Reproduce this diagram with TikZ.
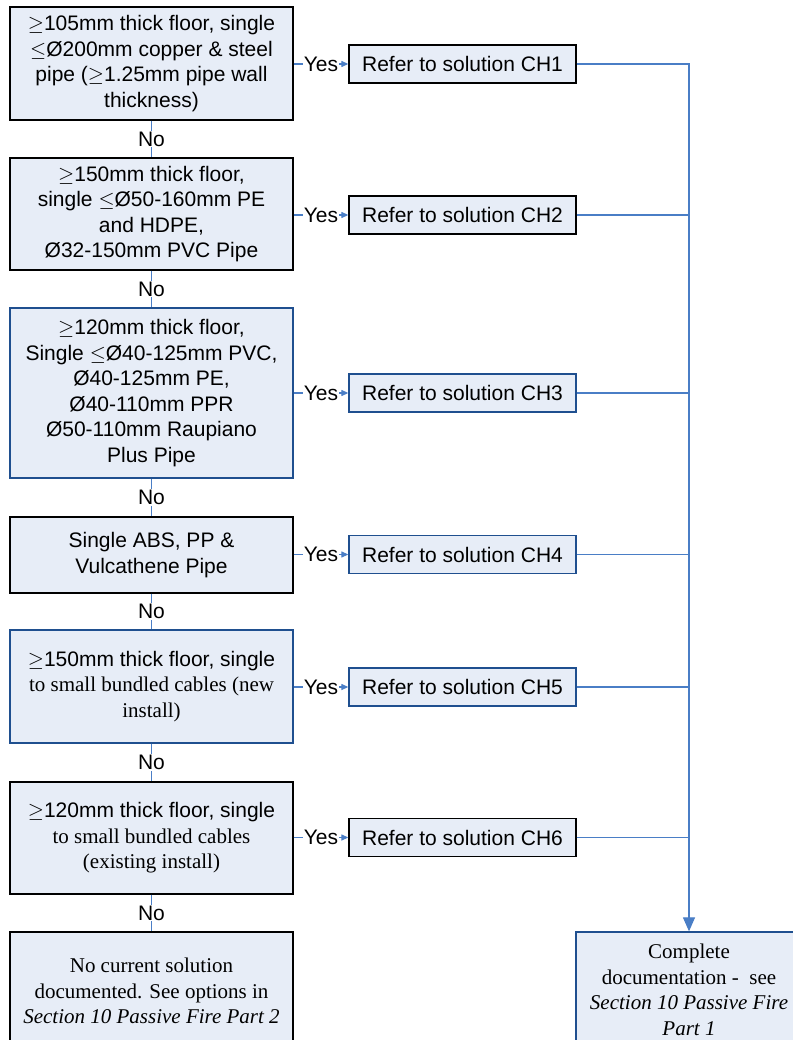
\documentclass[tikz,border=0pt]{standalone}
\usepackage{fontspec}
\setmainfont{Liberation Sans}
\newfontfamily\serifface{Liberation Serif}
\usepackage{xcolor}
\usetikzlibrary{positioning, arrows.meta}

\definecolor{boxfill}{HTML}{E7EDF7}
\definecolor{linkblue}{HTML}{4A7EC6}
\definecolor{edgeblue}{HTML}{1F4F8F}

\begin{document}
\begin{tikzpicture}[
    x=1pt, y=-1pt,
    font=\fontsize{21}{25.5}\selectfont,
    test/.style={draw=black, fill=boxfill, line width=1.3pt,
                 minimum width=283pt, align=center, inner sep=2pt},
    testb/.style={test, draw=edgeblue},
    ref/.style={draw=black, fill=boxfill, line width=1.3pt,
                minimum width=227pt, minimum height=38pt, inner sep=2pt},
    refb/.style={ref, draw=edgeblue},
    link/.style={draw=linkblue, line width=1.2pt},
    arrow/.style={link, -{Triangle[length=14pt, width=12pt]}},
    yesarrow/.style={link, -{Triangle[length=7pt, width=6pt]}},
    lbl/.style={fill=white, inner sep=1pt}
]
\useasboundingbox (0,0) rectangle (792,1040);
% Left — checks
\node[test, minimum height=113pt] (q1) at (151.5,63.5)
      {$\geq$105mm thick floor, single\\ $\leq$Ø200mm copper \& steel\\
       pipe ($\geq$1.25mm pipe wall\\ thickness)};
\node[test, minimum height=112pt] (q2) at (151.5,214)
      {$\geq$150mm thick floor,\\ single $\leq$Ø50-160mm PE\\ and HDPE,\\ Ø32-150mm PVC Pipe};
\node[testb, minimum height=170pt] (q3) at (151.5,393)
      {$\geq$120mm thick floor,\\ Single $\leq$Ø40-125mm PVC,\\ Ø40-125mm PE,\\
       Ø40-110mm PPR\\ Ø50-110mm Raupiano\\ Plus Pipe};
\node[test, minimum height=76pt] (q4) at (151.5,555)
      {Single ABS, PP \&\\ Vulcathene Pipe};
\node[testb, minimum height=113pt] (q5) at (151.5,686.5)
      {$\geq$150mm thick floor, single\\ {\serifface to small bundled cables (new}\\
       {\serifface install)}};
\node[test, minimum height=112pt] (q6) at (151.5,838)
      {$\geq$120mm thick floor, single\\ {\serifface to small bundled cables}\\
       {\serifface (existing install)}};
\node[test, minimum height=118pt, font=\serifface\fontsize{21}{25.5}\selectfont] (none) at (151.5,991)
      {No current solution\\ documented. See options in\\ \textit{Section 10 Passive Fire Part 2}};
% Right — solutions
\node[ref] (ch1) at (462.5,64) {Refer to solution CH1};
\node[ref] (ch2) at (462.5,215) {Refer to solution CH2};
\node[refb] (ch3) at (462.5,393) {Refer to solution CH3};
\node[refb] (ch4) at (462.5,554.5) {Refer to solution CH4};
\node[refb] (ch5) at (462.5,687) {Refer to solution CH5};
\node[ref] (ch6) at (462.5,837.5) {Refer to solution CH6};
\node[refb, minimum width=226pt, minimum height=116pt, align=center,
      font=\serifface\fontsize{21}{25.5}\selectfont] (done) at (689,990)
      {Complete\\ documentation -\ \ see\\ \textit{Section 10 Passive Fire}\\ \textit{Part 1}};
% No links
\draw[link] (q1) -- node[lbl]{No} (q2);
\draw[link] (q2) -- node[lbl]{No} (q3);
\draw[link] (q3) -- node[lbl]{No} (q4);
\draw[link] (q4) -- node[lbl]{No} (q5);
\draw[link] (q5) -- node[lbl]{No} (q6);
\draw[link] (q6) -- node[lbl]{No} (none);
% Yes links
\foreach \i in {1,...,6}
  \draw[yesarrow] (q\i.east |- ch\i) -- node[lbl]{Yes} (ch\i.west);
% Collector
\draw[arrow] (ch1.east) -| (done.north);
\foreach \i in {2,...,6}
  \draw[link] (ch\i.east) -- (ch\i.east -| done.north);
\end{tikzpicture}
\end{document}
